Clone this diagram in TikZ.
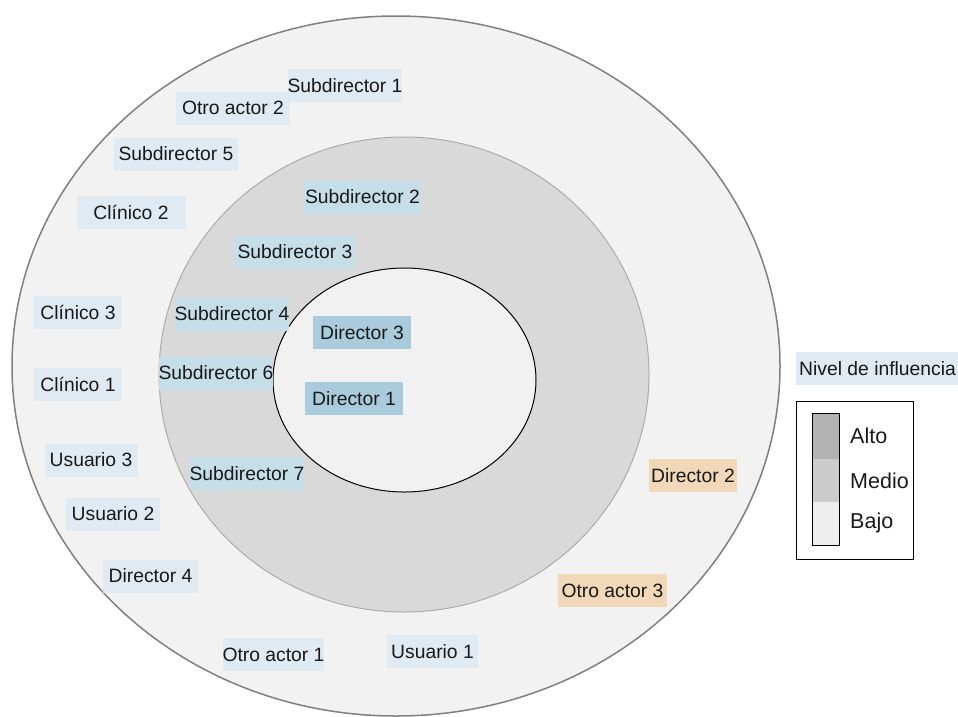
\documentclass[tikz,border=0pt]{standalone}
\usepackage{fontspec}
\setmainfont{Liberation Sans}
\definecolor{ringout}{HTML}{F2F2F2}
\definecolor{ringmid}{HTML}{D9D9D9}
\definecolor{ringin}{HTML}{F1F1F1}
\definecolor{lbout}{HTML}{DFEAF2}
\definecolor{lbmid}{HTML}{C6DEE8}
\definecolor{lbin}{HTML}{A9CBDC}
\definecolor{lbor}{HTML}{F1D8B9}
\definecolor{alto}{HTML}{B3B3B3}
\definecolor{medio}{HTML}{CCCCCC}
\definecolor{bajo}{HTML}{EEEEEE}
\tikzset{
  lab/.style={inner sep=0pt, minimum height=33pt, font=\fontsize{19.3}{21}\selectfont, text=black!90},
  lout/.style={lab, fill=lbout},
  lmid/.style={lab, fill=lbmid},
  lin/.style={lab, fill=lbin},
  lor/.style={lab, fill=lbor},
  legtxt/.style={anchor=west, inner sep=0pt, font=\fontsize{21.5}{23}\selectfont, text=black!90}
}
\begin{document}
\begin{tikzpicture}[x=1pt,y=-1pt]
\useasboundingbox (0,0) rectangle (958,716);
% rings
\path[fill=ringout, draw=black!50, line width=1.5pt] (396,366) ellipse [x radius=384, y radius=350];
\path[fill=ringmid, draw=black!33, line width=1pt] (404,374.5) ellipse [x radius=245, y radius=237.5];
\path[fill=ringin, draw=black, line width=1pt] (404.5,380) ellipse [x radius=131.5, y radius=112];
% outer ring labels
\node[lout, minimum width=112pt] (sd1) at (345,85.5) {Subdirector 1};
\node[lout, minimum width=114pt] (oa2) at (233,108) {Otro actor 2};
\node[lout, minimum width=124pt] (sd5) at (176,154) {Subdirector 5};
\node[lout, minimum width=109pt] (cl2) at (131,212) {Clínico 2};
\node[lout, minimum width=88pt] (cl3) at (78,312) {Clínico 3};
\node[lout, minimum width=88pt] (cl1) at (78,384) {Clínico 1};
\node[lout, minimum width=93pt] (us3) at (91,460) {Usuario 3};
\node[lout, minimum width=94pt] (us2) at (113,514) {Usuario 2};
\node[lout, minimum width=95pt] (d4) at (150.5,576) {Director 4};
\node[lout, minimum width=99pt] (oa1) at (273.5,654.5) {Otro actor 1};
\node[lout, minimum width=91pt] (us1) at (432.5,651.5) {Usuario 1};
% middle ring labels
\node[lmid, minimum width=117pt] (sd2) at (362.5,197) {Subdirector 2};
\node[lmid, minimum width=120pt] (sd3) at (295,252) {Subdirector 3};
\node[lmid, minimum width=110pt] (sd4) at (232,314) {Subdirector 4};
\node[lmid, minimum width=114pt] (sd6) at (216,373) {Subdirector 6};
\node[lmid, minimum width=114pt] (sd7) at (247,473.5) {Subdirector 7};
% inner labels
\node[lin, minimum width=98pt] (d3) at (362,332.5) {Director 3};
\node[lin, minimum width=98pt] (d1) at (354,398.5) {Director 1};
% orange labels
\node[lor, minimum width=88pt] (d2) at (693,475.5) {Director 2};
\node[lor, minimum width=109pt] (oa3) at (612.5,590.5) {Otro actor 3};
% legend
\node[lout, minimum width=162pt, anchor=west] (niv) at (796,368.5) {\hspace*{3pt}Nivel de influencia\hspace*{3pt}\hfill};
\node[draw=black, line width=1pt, minimum width=117pt, minimum height=158pt, inner sep=0pt] (leg) at (854.5,480) {};
\path[fill=alto] (812,413) rectangle (839,459);
\path[fill=medio] (812,459) rectangle (839,502);
\path[fill=bajo] (812,502) rectangle (839,545);
\draw[black, line width=0.8pt] (812,413) rectangle (839,545);
\node[legtxt] (alto) at (850,436) {Alto};
\node[legtxt] (medio) at (850,481) {Medio};
\node[legtxt] (bajo) at (850,523) {Bajo};
\end{tikzpicture}
\end{document}
